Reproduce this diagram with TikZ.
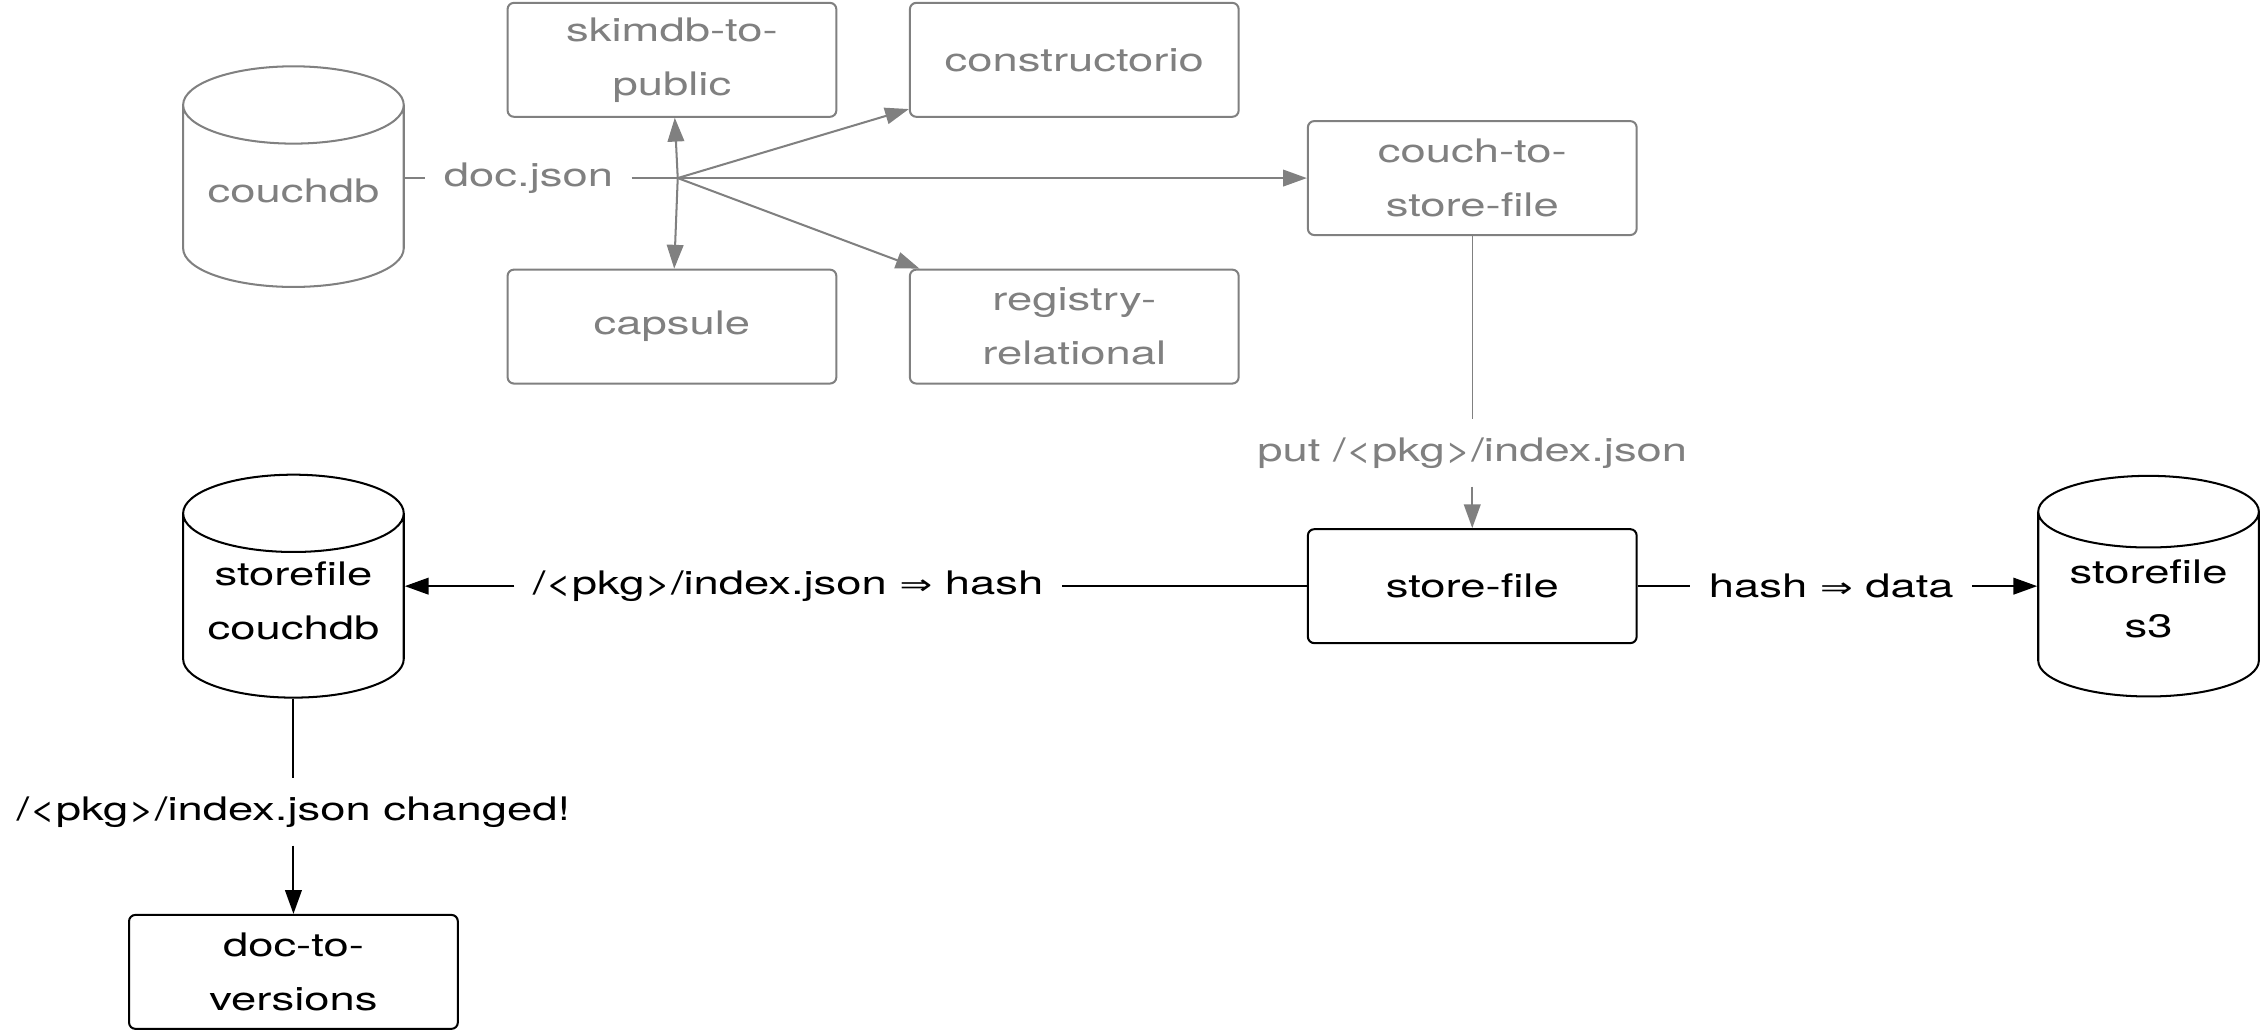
\documentclass[tikz,border=0pt]{standalone}
\usepackage{fontspec}
\setmainfont{TeX Gyre Heros}[FakeStretch=1.4]
\newfontfamily\arrowfont{DejaVu Sans}[FakeStretch=1.4]
\usetikzlibrary{shapes.geometric,arrows.meta}
\definecolor{oldgray}{HTML}{808080}
\tikzset{
  txt/.style={font=\fontsize{12.8}{21.4}\selectfont},
  proc/.style={txt, draw, rounded corners=2.5pt, line width=0.8pt,
    minimum width=4.56cm, minimum height=1.58cm, align=center},
  db/.style={txt, draw, cylinder, shape border rotate=90, aspect=0.41,
    anchor=shape center, line width=0.8pt, text depth=0.36cm,
    minimum width=3.06cm, minimum height=3.06cm, align=center},
  old/.style={draw=oldgray, text=oldgray},
  lbl/.style={txt, inner sep=0.25cm},
  wire/.style={line width=0.8pt},
  flow/.style={wire, -{Triangle[length=0.33cm,width=0.23cm]}}
}
\begin{document}
\begin{tikzpicture}
\useasboundingbox (0,0) rectangle (31.36,-14.33);

% old pipeline
\node[db, old] (couch) at (4.07,-2.45) {couchdb};
\node[proc, old] (skim) at (9.32,-0.83) {skimdb-to-\\public};
\node[proc, old] (constr) at (14.90,-0.83) {constructorio};
\node[proc, old] (capsule) at (9.32,-4.53) {capsule};
\node[proc, old] (regrel) at (14.90,-4.53) {registry-\\relational};
\node[proc, old] (c2sf) at (20.42,-2.47) {couch-to-\\store-file};
\node[lbl, text=oldgray] (docjson) at (7.33,-2.47) {doc.json};
\coordinate (hub) at (9.40,-2.47);

\draw[wire, oldgray] (couch.east |- docjson) -- (docjson) -- (hub);
\foreach \t in {skim,constr,capsule,regrel,c2sf}
  \draw[flow, oldgray] (hub) -- (\t);

% store-file
\node[proc] (sf) at (20.42,-8.13) {store-file};
\node[db] (sfcouch) at (4.07,-8.13) {storefile\\couchdb};
\node[db] (s3) at (29.80,-8.13) {storefile\\s3};
\node[lbl, text=oldgray] (putlbl) at (20.42,-6.28) {put /<pkg>/index.json};
\node[lbl] (idxlbl) at (10.93,-8.13) {/<pkg>/index.json {\arrowfont\fontsize{11}{11}\selectfont ⇒} hash};
\node[lbl] (datalbl) at (25.40,-8.13) {hash {\arrowfont\fontsize{11}{11}\selectfont ⇒} data};
\node[lbl] (chglbl) at (4.07,-11.26) {/<pkg>/index.json changed!};
\node[proc] (d2v) at (4.07,-13.48) {doc-to-\\versions};

\draw[wire, oldgray, line width=0.6pt] (c2sf) -- (putlbl);
\draw[flow, oldgray] (putlbl) -- (sf);
\draw[wire] (sf) -- (idxlbl);
\draw[flow] (idxlbl) -- (sfcouch.east |- idxlbl);
\draw[wire] (sf) -- (datalbl);
\draw[flow] (datalbl) -- (s3.west |- datalbl);
\draw[wire] (sfcouch) -- (chglbl);
\draw[flow] (chglbl) -- (d2v);

\end{tikzpicture}
\end{document}
